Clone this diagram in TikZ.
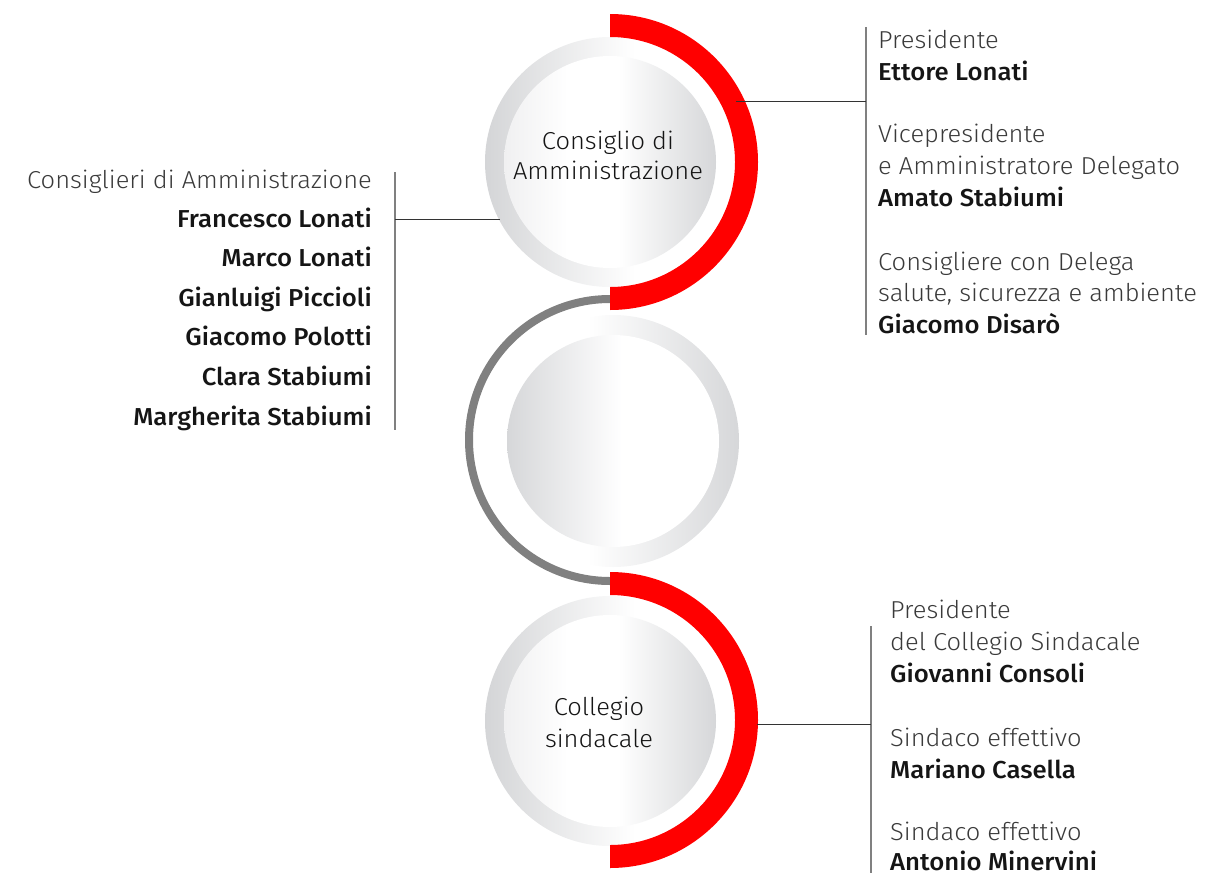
\documentclass[tikz,border=0pt]{standalone}
\usepackage{fontspec}
\setmainfont{Fira Sans}[UprightFont={* Light},BoldFont={* Medium},UprightFeatures={FakeStretch=1.04},BoldFeatures={FakeStretch=1.05}]
\definecolor{redA}{HTML}{FF0000}
\definecolor{redB}{HTML}{DE0000}
\definecolor{ringG}{HTML}{D4D5D7}
\definecolor{diskL}{HTML}{F0F0F1}
\definecolor{diskR}{HTML}{D6D7D9}
\definecolor{lineG}{HTML}{808080}
\definecolor{connK}{HTML}{333333}
\definecolor{txtG}{HTML}{3A3A3A}
\definecolor{txtK}{HTML}{151515}
\pgfdeclarehorizontalshading{ringA}{100bp}{color(0bp)=(ringG); color(25bp)=(ringG); color(55bp)=(white); color(100bp)=(white)}
\pgfdeclarehorizontalshading{diskA}{100bp}{color(0bp)=(diskL); color(25bp)=(diskL); color(40bp)=(white); color(52bp)=(white); color(75bp)=(diskR); color(100bp)=(diskR)}
\pgfdeclarehorizontalshading{ringB}{100bp}{color(0bp)=(white); color(25bp)=(white); color(45bp)=(white); color(75bp)=(diskR); color(100bp)=(diskR)}
\pgfdeclarehorizontalshading{diskB}{100bp}{color(0bp)=(diskR); color(25bp)=(diskR); color(52bp)=(white); color(100bp)=(white)}
\begin{document}
\begin{tikzpicture}[x=1pt,y=-1pt,
  lab/.style={inner sep=0pt, font=\fontsize{24.5}{29}\selectfont, text=txtG},
  nam/.style={inner sep=0pt, font=\fontsize{24.5}{29}\selectfont\bfseries, text=txtK},
  ctr/.style={inner sep=0pt, font=\fontsize{24.5}{29}\selectfont, text=txtK, anchor=base},
  conn/.style={draw=connK, line width=1pt},
  vline/.style={draw=lineG, line width=1.3pt},
  grayarc/.style={draw=lineG, line width=8pt},
  redshade/.style={top color=redA, middle color=redB, bottom color=redA}]
\useasboundingbox (0,0) rectangle (1227,873);

% gray connecting arc
\draw[grayarc] (610,299) arc[start angle=-90, end angle=-270, radius=141];

% top disk
\shade[shading=ringA] (610,162) circle[radius=125];
\shade[shading=diskA] (610,162) circle[radius=106];
% middle disk
\shade[shading=ringB] (613,441) circle[radius=126];
\shade[shading=diskB] (613,441) circle[radius=106];
% bottom disk
\shade[shading=ringA] (610,721) circle[radius=125];
\shade[shading=diskA] (610,721) circle[radius=106];

% red arcs
\shade[redshade] (610,14) arc[start angle=-90, end angle=90, radius=148] -- (610,287) arc[start angle=90, end angle=-90, radius=125] -- cycle;
\shade[redshade] (610,572) arc[start angle=-90, end angle=90, radius=148] -- (610,845) arc[start angle=90, end angle=-90, radius=125] -- cycle;

% circle labels
\node[ctr] (c1a) at (608,149) {Consiglio di};
\node[ctr] (c1b) at (608,179) {Amministrazione};
\node[ctr] (c3a) at (599,715) {Collegio};
\node[ctr] (c3b) at (599,747) {sindacale};

% left list
\node[lab, anchor=base east] (lh) at (372,188) {Consiglieri di Amministrazione};
\node[nam, anchor=base east] (l1) at (372,227) {Francesco Lonati};
\node[nam, anchor=base east] (l2) at (372,266) {Marco Lonati};
\node[nam, anchor=base east] (l3) at (372,306) {Gianluigi Piccioli};
\node[nam, anchor=base east] (l4) at (372,345) {Giacomo Polotti};
\node[nam, anchor=base east] (l5) at (372,385) {Clara Stabiumi};
\node[nam, anchor=base east] (l6) at (372,425) {Margherita Stabiumi};

% top right list
\node[lab, anchor=base west] (r1) at (878,48) {Presidente};
\node[nam, anchor=base west] (r2) at (878,80) {Ettore Lonati};
\node[lab, anchor=base west] (r3) at (878,142) {Vicepresidente};
\node[lab, anchor=base west] (r4) at (878,174) {e Amministratore Delegato};
\node[nam, anchor=base west] (r5) at (878,206) {Amato Stabiumi};
\node[lab, anchor=base west] (r6) at (878,270) {Consigliere con Delega};
\node[lab, anchor=base west] (r7) at (878,301) {salute, sicurezza e ambiente};
\node[nam, anchor=base west] (r8) at (878,333) {Giacomo Disarò};

% bottom right list
\node[lab, anchor=base west] (b1) at (890,618) {Presidente};
\node[lab, anchor=base west] (b2) at (890,650) {del Collegio Sindacale};
\node[nam, anchor=base west] (b3) at (890,682) {Giovanni Consoli};
\node[lab, anchor=base west] (b4) at (890,746) {Sindaco effettivo};
\node[nam, anchor=base west] (b5) at (890,778) {Mariano Casella};
\node[lab, anchor=base west] (b6) at (890,840) {Sindaco effettivo};
\node[nam, anchor=base west] (b7) at (890,870) {Antonio Minervini};

% connectors
\coordinate (lTop) at (395,172);
\coordinate (lBot) at (395,430);
\coordinate (lJ) at (395,219);
\coordinate (lEnd) at (500,219);
\draw[vline] (lTop) -- (lBot);
\draw[conn] (lJ) -- (lEnd);

\coordinate (tTop) at (866,27);
\coordinate (tBot) at (866,335);
\coordinate (tJ) at (866,101);
\coordinate (tEnd) at (736,101);
\draw[vline] (tTop) -- (tBot);
\draw[conn] (tEnd) -- (tJ);

\coordinate (bTop) at (871,626);
\coordinate (bBot) at (871,873);
\coordinate (bJ) at (871,724);
\coordinate (bEnd) at (757,724);
\draw[vline] (bTop) -- (bBot);
\draw[conn] (bEnd) -- (bJ);
\end{tikzpicture}
\end{document}
